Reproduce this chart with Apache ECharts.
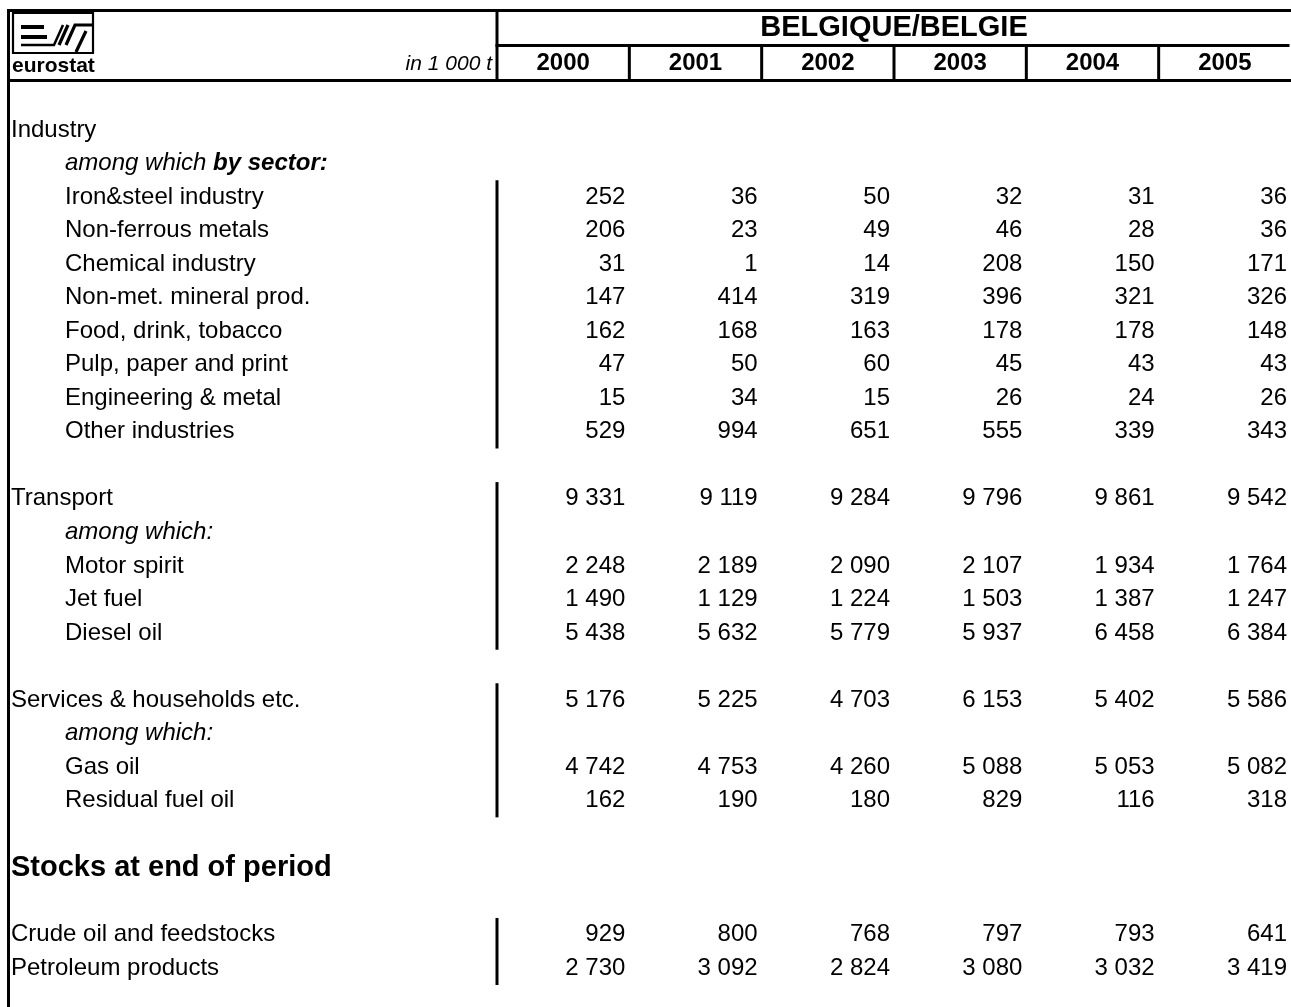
<!DOCTYPE html>
<html>
<head>
<meta charset="utf-8">
<title>BELGIQUE/BELGIE</title>
<script src="https://cdn.jsdelivr.net/npm/echarts@6/dist/echarts.min.js"></script>
<style>
  html, body { margin: 0; padding: 0; background: #fff; }
  #main { width: 1291px; height: 1007px; }
</style>
</head>
<body>
<div id="main"></div>
<script>
// data
var years = ['2000', '2001', '2002', '2003', '2004', '2005'];

var ironSteel   = [252, 36, 50, 32, 31, 36];
var nonFerrous  = [206, 23, 49, 46, 28, 36];
var chemical    = [31, 1, 14, 208, 150, 171];
var nonMetMin   = [147, 414, 319, 396, 321, 326];
var foodDrink   = [162, 168, 163, 178, 178, 148];
var pulpPaper   = [47, 50, 60, 45, 43, 43];
var engineering = [15, 34, 15, 26, 24, 26];
var otherInd    = [529, 994, 651, 555, 339, 343];
var transport   = [9331, 9119, 9284, 9796, 9861, 9542];
var motorSpirit = [2248, 2189, 2090, 2107, 1934, 1764];
var jetFuel     = [1490, 1129, 1224, 1503, 1387, 1247];
var dieselOil   = [5438, 5632, 5779, 5937, 6458, 6384];
var services    = [5176, 5225, 4703, 6153, 5402, 5586];
var gasOil      = [4742, 4753, 4260, 5088, 5053, 5082];
var residual    = [162, 190, 180, 829, 116, 318];
var crudeStock  = [929, 800, 768, 797, 793, 641];
var prodStock   = [2730, 3092, 2824, 3080, 3032, 3419];

// table rows: [label, kind, values]
var rows = [
    ['Industry', 'top', null],
    ['among which', 'noteBold', null],
    ['Iron&steel industry', 'sub', ironSteel],
    ['Non-ferrous metals', 'sub', nonFerrous],
    ['Chemical industry', 'sub', chemical],
    ['Non-met. mineral prod.', 'sub', nonMetMin],
    ['Food, drink, tobacco', 'sub', foodDrink],
    ['Pulp, paper and print', 'sub', pulpPaper],
    ['Engineering & metal', 'sub', engineering],
    ['Other industries', 'sub', otherInd],
    ['', 'blank', null],
    ['Transport', 'top', transport],
    ['among which:', 'note', null],
    ['Motor spirit', 'sub', motorSpirit],
    ['Jet fuel', 'sub', jetFuel],
    ['Diesel oil', 'sub', dieselOil],
    ['', 'blank', null],
    ['Services & households etc.', 'top', services],
    ['among which:', 'note', null],
    ['Gas oil', 'sub', gasOil],
    ['Residual fuel oil', 'sub', residual],
    ['', 'blank', null],
    ['Stocks at end of period', 'head', null],
    ['', 'blank', null],
    ['Crude oil and feedstocks', 'top', crudeStock],
    ['Petroleum products', 'top', prodStock]
];
// row ranges that get the black bar in front of the numbers
var groups = [[2, 9], [11, 15], [17, 20], [24, 25]];

var FONT = '"Liberation Sans", Arial, Helvetica, sans-serif';

function fmt(v) {
    return String(v).replace(/\B(?=(\d{3})+(?!\d))/g, ' ');
}

var cells = [];
rows.forEach(function (r, ri) {
    if (!r[2]) return;
    r[2].forEach(function (v, ci) {
        cells.push([ci, ri, v]);
    });
});

var chart = echarts.init(document.getElementById('main'));

var option = {
    animation: false,
    backgroundColor: '#fff',
    grid: {
        left: 497,
        right: 0,
        top: 113.3,
        bottom: 22,
        outerBoundsMode: 'none'
    },
    xAxis: {
        type: 'category',
        position: 'top',
        data: years,
        axisLine: { show: false },
        axisTick: { show: false },
        splitLine: { show: false },
        axisLabel: {
            interval: 0,
            margin: 50,
            verticalAlign: 'middle',
            fontFamily: FONT,
            fontSize: 24,
            fontWeight: 'bold',
            color: '#000'
        }
    },
    yAxis: {
        type: 'category',
        inverse: true,
        data: rows.map(function (r) { return r[0]; }),
        axisLine: { show: false },
        axisTick: { show: false },
        splitLine: { show: false },
        axisLabel: {
            interval: 0,
            margin: 486,
            align: 'left',
            color: '#000',
            fontFamily: FONT,
            fontSize: 24,
            formatter: function (value, idx) {
                var kind = rows[idx][1];
                if (kind === 'blank') return '';
                if (kind === 'sub') return '{sub|' + value + '}';
                if (kind === 'note') return '{it|' + value + '}';
                if (kind === 'noteBold') return '{it|' + value + ' }{bi|by sector:}';
                if (kind === 'head') return '{head|' + value + '}';
                return '{top|' + value + '}';
            },
            rich: {
                top: { fontFamily: FONT, fontSize: 24, color: '#000' },
                sub: { fontFamily: FONT, fontSize: 24, color: '#000', padding: [0, 0, 0, 54] },
                it: { fontFamily: FONT, fontSize: 24, color: '#000', fontStyle: 'italic', padding: [0, 0, 0, 54] },
                bi: { fontFamily: FONT, fontSize: 24, color: '#000', fontStyle: 'italic', fontWeight: 'bold' },
                head: { fontFamily: FONT, fontSize: 29, color: '#000', fontWeight: 'bold' }
            }
        }
    },
    series: [
        {
            // numbers, right aligned in each year column
            type: 'custom',
            clip: false,
            encode: { x: 0, y: 1 },
            data: cells,
            renderItem: function (params, api) {
                var p = api.coord([api.value(0), api.value(1)]);
                var s = api.size([1, 1]);
                return {
                    type: 'text',
                    x: p[0] + s[0] / 2 - 4,
                    y: p[1],
                    style: {
                        text: fmt(api.value(2)),
                        textAlign: 'right',
                        textVerticalAlign: 'middle',
                        font: '24px ' + FONT,
                        fill: '#000'
                    }
                };
            }
        },
        {
            // black bars before each data block
            type: 'custom',
            clip: false,
            encode: { x: 0, y: [1, 2] },
            data: groups.map(function (g) { return [0, g[0], g[1]]; }),
            renderItem: function (params, api) {
                var a = api.coord([0, api.value(1)]);
                var b = api.coord([0, api.value(2)]);
                var s = api.size([1, 1]);
                return {
                    type: 'rect',
                    shape: {
                        x: a[0] - s[0] / 2 - 1.5,
                        y: a[1] - s[1] / 2,
                        width: 3,
                        height: b[1] - a[1] + s[1]
                    },
                    style: { fill: '#000' }
                };
            }
        }
    ]
};

chart.setOption(option);

// frame, header and logo
var x0 = chart.convertToPixel({ xAxisIndex: 0 }, 0);
var cw = chart.convertToPixel({ xAxisIndex: 0 }, 1) - x0;
var gl = x0 - cw / 2;
var black = { fill: '#000' };

var graphics = [
    { type: 'rect', shape: { x: 7, y: 9, width: 1284, height: 3 }, style: black },
    { type: 'rect', shape: { x: 7, y: 9, width: 3, height: 998 }, style: black },
    { type: 'rect', shape: { x: 7, y: 79, width: 1284, height: 3 }, style: black },
    { type: 'rect', shape: { x: gl - 1.5, y: 9, width: 3, height: 73 }, style: black },
    { type: 'rect', shape: { x: gl - 1.5, y: 44, width: 1291 - gl, height: 3 }, style: black },
    {
        type: 'text', x: gl + cw * 3, y: 27.5,
        style: { text: 'BELGIQUE/BELGIE', font: 'bold 29px ' + FONT, fill: '#000', textAlign: 'center', textVerticalAlign: 'middle' }
    },
    {
        type: 'text', x: 492, y: 64,
        style: { text: 'in 1 000 t', font: 'italic 21px ' + FONT, fill: '#000', textAlign: 'right', textVerticalAlign: 'middle' }
    },
    // eurostat logo
    { type: 'rect', shape: { x: 13, y: 13, width: 80, height: 40 }, style: { stroke: '#000', lineWidth: 2.2, fill: 'none' } },
    { type: 'rect', shape: { x: 21, y: 25, width: 23, height: 4 }, style: black },
    { type: 'rect', shape: { x: 21, y: 35, width: 26, height: 4 }, style: black },
    { type: 'polyline', shape: { points: [[21, 45], [54, 45], [63, 25]] }, style: { stroke: '#000', lineWidth: 2.5, fill: 'none' } },
    { type: 'polyline', shape: { points: [[59, 45], [68, 25]] }, style: { stroke: '#000', lineWidth: 3.2, fill: 'none' } },
    { type: 'polyline', shape: { points: [[66, 45], [75, 25], [92, 25]] }, style: { stroke: '#000', lineWidth: 3.2, fill: 'none' } },
    { type: 'polyline', shape: { points: [[76, 52], [86, 31]] }, style: { stroke: '#000', lineWidth: 3.2, fill: 'none' } },
    {
        type: 'text', x: 12, y: 66,
        style: { text: 'eurostat', font: 'bold 21px ' + FONT, fill: '#000', textAlign: 'left', textVerticalAlign: 'middle' }
    }
];

years.slice(1).forEach(function (y, i) {
    var x = chart.convertToPixel({ xAxisIndex: 0 }, i + 1) - cw / 2;
    graphics.push({ type: 'rect', shape: { x: x - 1.5, y: 44, width: 3, height: 37 }, style: black });
});

chart.setOption({ graphic: graphics });
</script>
</body>
</html>
